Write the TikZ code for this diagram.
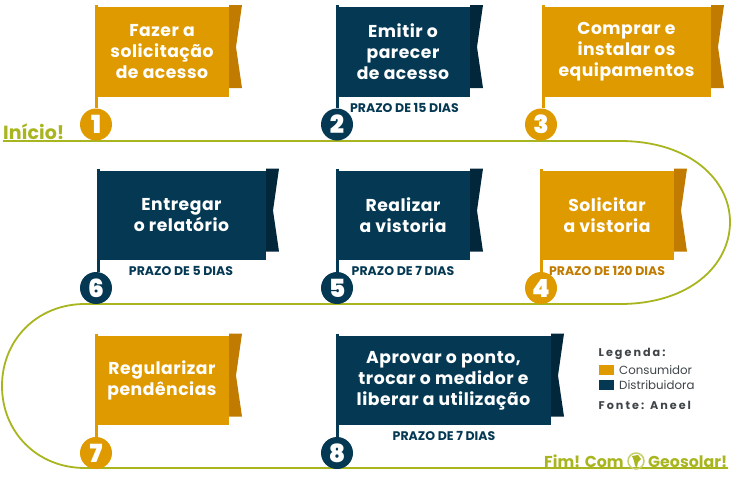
\documentclass[tikz,border=0pt]{standalone}
\usepackage{fontspec}
\setmainfont{Poppins}[BoldFont={Poppins SemiBold}]
\newfontfamily\boldf{Poppins}[BoldFont={Poppins Bold}]
\newfontfamily\ttlf{Poppins Bold}[LetterSpace=3]
\newfontfamily\legf{Poppins Bold}[LetterSpace=18]
\newfontfamily\prazof{Poppins Bold}
\newfontfamily\numf{Poppins Black}
\definecolor{orng}{HTML}{DF9A00}
\definecolor{orngd}{HTML}{C07B00}
\definecolor{navy}{HTML}{043853}
\definecolor{navyd}{HTML}{02263A}
\definecolor{grn}{HTML}{A8B51F}
\definecolor{gry}{HTML}{3F4448}
\tikzset{
  ttl/.style={text=white,font=\ttlf\fontsize{17.2}{21}\selectfont,align=center,inner sep=0pt},
  numc/.style={circle,minimum size=32pt,inner sep=0pt,text=white,font=\numf\fontsize{25}{25}\selectfont},
  prazo/.style={font=\prazof\fontsize{12.5}{14}\selectfont,inner sep=0pt},
  route/.style={draw=grn,line width=1.8pt},
  legt/.style={font=\fontsize{11.8}{13}\selectfont,text=gry,anchor=west,inner sep=0pt},
  legh/.style={font=\legf\fontsize{11.2}{13}\selectfont,text=gry,anchor=west,inner sep=0pt},
  grt/.style={font=\boldf\bfseries\fontsize{15.8}{18}\selectfont,text=grn,inner sep=0pt,anchor=base west},
}
% #1 name, #2 left, #3 right, #4 top, #5 main colour, #6 dark colour, #7 text, #8 pole x, #9 number
\newcommand{\flagbox}[9]{%
  \fill[#6] (#3,#4-2) -- (#3+13,#4-2) -- (#3+7,#4+40) -- (#3+13,#4+81) -- (#3,#4+81) -- cycle;
  \path[fill=#5] (#2,#4) rectangle (#3,#4+89.5);
  \node[ttl] (#1) at ({(#2+#3)/2},#4+45) {#7};
  \node[numc,fill=#5] (n#1) at (#8,#4+117.5) {#9};
  \coordinate (p#1) at (#2+1.5,#4-2);
  \draw[#5,line width=3pt] (p#1) -- (p#1 |- n#1.north);
}
\begin{document}
\begin{tikzpicture}[x=1pt,y=-1pt]
\useasboundingbox (0,0) rectangle (732,479);
\coordinate (r0) at (3,141);
\coordinate (r1) at (620,141);
\coordinate (r2) at (730,222);
\coordinate (r3) at (620,304);
\coordinate (r4) at (85,304);
\coordinate (r5) at (2,386);
\coordinate (r6) at (85,468);
\coordinate (r7) at (728,468);
\draw[route] (r0) -- (r1) .. controls (690,141) and (730,180) .. (r2)
  .. controls (730,265) and (690,304) .. (r3) -- (r4)
  .. controls (37,304) and (2,340) .. (r5)
  .. controls (2,432) and (37,468) .. (r6) -- (r7);
\flagbox{a}{95}{229}{7}{orng}{orngd}{Fazer a\\solicitação\\de acesso}{96}{1}
\flagbox{b}{336}{470}{7}{navy}{navyd}{Emitir o\\parecer\\de acesso}{337}{2}
\flagbox{c}{542}{711}{7}{orng}{orngd}{Comprar e\\instalar os\\equipamentos}{541}{3}
\flagbox{f}{97}{266}{170.5}{navy}{navyd}{Entregar\\o relatório}{96}{6}
\flagbox{e}{336}{470}{170.5}{navy}{navyd}{Realizar\\a vistoria}{337}{5}
\flagbox{d}{540}{674}{170.5}{orng}{orngd}{Solicitar\\a vistoria}{541}{4}
\flagbox{g}{95}{229}{335.5}{orng}{orngd}{Regularizar\\pendências}{96}{7}
\flagbox{h}{336}{551}{335.5}{navy}{navyd}{Aprovar o ponto,\\trocar o medidor e\\liberar a utilização}{337}{8}
\node[prazo,text=navy] (pb) at (404.5,108) {PRAZO DE 15 DIAS};
\node[prazo,text=navy] (pf) at (181,271) {PRAZO DE 5 DIAS};
\node[prazo,text=navy] (pe) at (403,271) {PRAZO DE 7 DIAS};
\node[prazo,text=orngd] (pd) at (607,271) {PRAZO DE 120 DIAS};
\node[prazo,text=navy] (ph) at (444,436) {PRAZO DE 7 DIAS};
\node[grt,font=\boldf\bfseries\fontsize{19}{20}\selectfont] (ini) at (3,139) {Início!};
\node[grt] (fim) at (544,467) {Fim! Com};
\node[grt] (geo) at (648,467) {Geosolar!};
\node[circle,draw=grn!65,line width=1.5pt,minimum size=16pt,inner sep=0pt] (globe) at (636,461) {};
\fill[grn] (632,456) -- (638,455) -- (641,459) -- (638,462) -- (637,467) -- (635,466) -- (634,461) -- cycle;
\node[legh] (lg) at (598.5,354) {Legenda:};
\node[fill=orng,minimum width=15pt,minimum height=10.5pt,inner sep=0pt] (so) at (606.5,370) {};
\node[fill=navy,minimum width=15pt,minimum height=10.5pt,inner sep=0pt] (sn) at (606.5,385) {};
\node[legt] (lc) at (619,370) {Consumidor};
\node[legt] (ld) at (619,385) {Distribuidora};
\node[legh] (lf) at (598.5,405.5) {Fonte: Aneel};
\end{tikzpicture}
\end{document}
